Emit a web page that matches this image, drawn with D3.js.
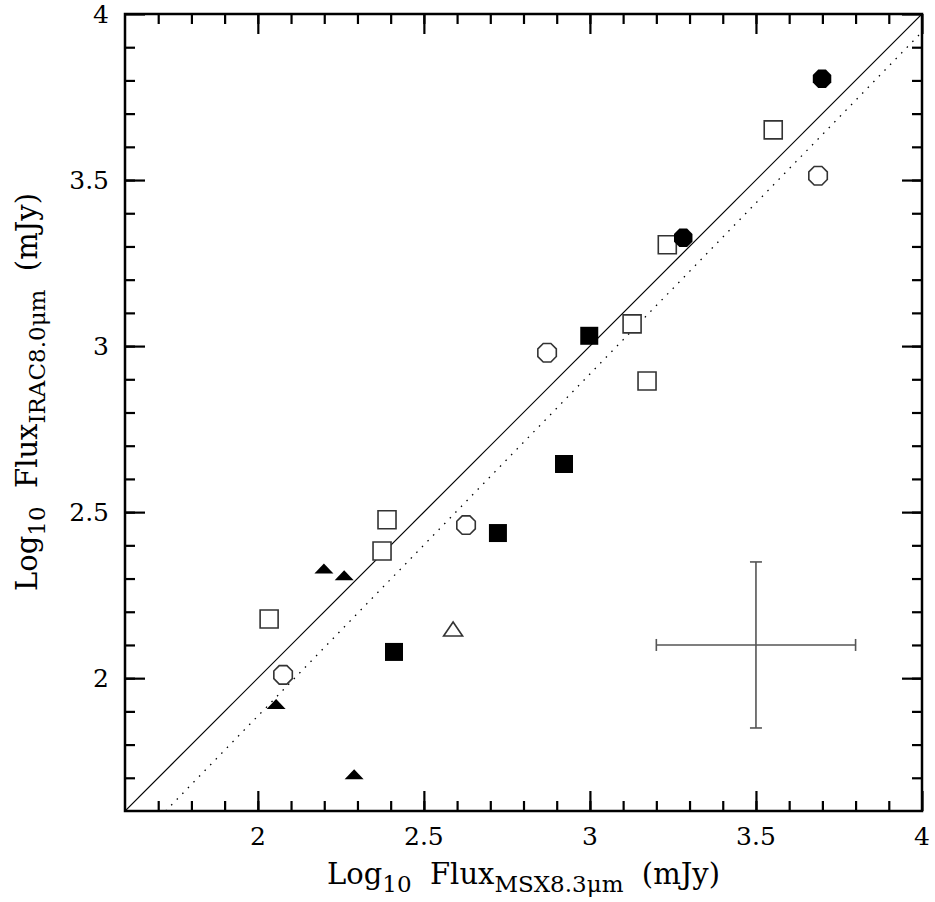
<!DOCTYPE html>
<html>
<head>
<meta charset="utf-8">
<script src="https://cdn.jsdelivr.net/npm/d3@7"></script>
<style>
  body { margin: 0; background: #fff; }
  text { font-family: "DejaVu Serif", serif; fill: #000; }
</style>
</head>
<body>
<div id="container"></div>
<script>
// data (log10 flux, mJy)
var filledCircles = [[3.699, 3.805], [3.281, 3.326]];
var openCircles = [[3.687, 3.513], [2.871, 2.980], [2.627, 2.461], [2.076, 2.010]];
var openSquares = [[3.552, 3.651], [3.233, 3.305], [3.127, 3.067], [3.172, 2.895],
                   [2.389, 2.477], [2.374, 2.383], [2.034, 2.178]];
var filledSquares = [[2.998, 3.031], [2.922, 2.645], [2.723, 2.437], [2.410, 2.079]];
var filledTriangles = [[2.199, 2.330], [2.260, 2.310], [2.055, 1.922], [2.290, 1.711]];
var openTriangles = [[2.588, 2.148]];
var errorBar = { x: 3.5, y: 2.1, dx: 0.3, dy: 0.25 };
var fitLine = { slope: 1.03, intercept: -0.174 };
var majorTicks = [2, 2.5, 3, 3.5, 4];
var tickLabels = ['2', '2.5', '3', '3.5', '4'];

function drawChart() {
    var W = 935, H = 902;
    var pl = 125, pr = 922, pt = 14, pb = 811;

    var svg = d3.select('#container').append('svg')
        .attr('width', W)
        .attr('height', H);

    var x = d3.scaleLinear().domain([1.6, 4]).range([pl, pr]);
    var y = d3.scaleLinear().domain([1.6, 4]).range([pb, pt]);

    var minor = d3.range(17, 40).map(function(v) { return v / 10; });

    // ticks on all four sides, pointing inward
    function tickSet(axisGen, tr, major) {
        var g = svg.append('g').attr('transform', tr)
            .call(axisGen.tickValues(major ? majorTicks : minor).tickFormat(''));
        g.select('.domain').remove();
        g.selectAll('line').attr('stroke', '#000').attr('stroke-width', 2.2);
    }
    tickSet(d3.axisTop(x).tickSize(10), 'translate(0,' + pb + ')', false);
    tickSet(d3.axisTop(x).tickSize(20), 'translate(0,' + pb + ')', true);
    tickSet(d3.axisBottom(x).tickSize(10), 'translate(0,' + pt + ')', false);
    tickSet(d3.axisBottom(x).tickSize(20), 'translate(0,' + pt + ')', true);
    tickSet(d3.axisRight(y).tickSize(10), 'translate(' + pl + ',0)', false);
    tickSet(d3.axisRight(y).tickSize(20), 'translate(' + pl + ',0)', true);
    tickSet(d3.axisLeft(y).tickSize(10), 'translate(' + pr + ',0)', false);
    tickSet(d3.axisLeft(y).tickSize(20), 'translate(' + pr + ',0)', true);

    svg.append('rect')
        .attr('x', pl).attr('y', pt)
        .attr('width', pr - pl).attr('height', pb - pt)
        .attr('fill', 'none').attr('stroke', '#000').attr('stroke-width', 2.5);

    // tick labels
    svg.append('g').selectAll('text').data(majorTicks).enter().append('text')
        .attr('x', function(d) { return x(d); })
        .attr('y', pb + 34)
        .attr('text-anchor', 'middle')
        .attr('font-size', 25)
        .text(function(d, i) { return tickLabels[i]; });

    svg.append('g').selectAll('text').data(majorTicks).enter().append('text')
        .attr('x', pl - 16)
        .attr('y', function(d) { return y(d) + 9; })
        .attr('text-anchor', 'end')
        .attr('font-size', 25)
        .text(function(d, i) { return tickLabels[i]; });

    // axis titles
    function title(t, sub) {
        t.append('tspan').text('Log');
        t.append('tspan').attr('font-size', 23).attr('dy', 8).text('10');
        t.append('tspan').attr('dy', -8).text('\u00a0 Flux');
        t.append('tspan').attr('font-size', 23).attr('dy', 8).text(sub);
        t.append('tspan').attr('dy', -8).text('\u00a0 (mJy)');
    }
    var xt = svg.append('text')
        .attr('x', x(2.8)).attr('y', 884)
        .attr('text-anchor', 'middle').attr('font-size', 29);
    title(xt, 'MSX8.3\u03bcm');

    var yt = svg.append('text')
        .attr('transform', 'translate(37,392) rotate(-90)')
        .attr('text-anchor', 'middle').attr('font-size', 29);
    title(yt, 'IRAC8.0\u03bcm');

    // one-to-one and fitted lines
    svg.append('clipPath').attr('id', 'plotclip')
        .append('rect').attr('x', pl).attr('y', pt)
        .attr('width', pr - pl).attr('height', pb - pt);
    var plot = svg.append('g').attr('clip-path', 'url(#plotclip)');

    plot.append('line')
        .attr('x1', x(1.6)).attr('y1', y(1.6))
        .attr('x2', x(4)).attr('y2', y(4))
        .attr('stroke', '#000').attr('stroke-width', 1.2);

    var fx0 = (1.6 - fitLine.intercept) / fitLine.slope;
    plot.append('line')
        .attr('x1', x(fx0)).attr('y1', y(1.6))
        .attr('x2', x(4)).attr('y2', y(fitLine.slope * 4 + fitLine.intercept))
        .attr('stroke', '#000').attr('stroke-width', 1.3)
        .attr('stroke-dasharray', '1.5,6.5');

    // error bar cross
    var eb = svg.append('g').attr('stroke', '#555').attr('stroke-width', 1.6);
    eb.append('line')
        .attr('x1', x(errorBar.x - errorBar.dx)).attr('x2', x(errorBar.x + errorBar.dx))
        .attr('y1', y(errorBar.y)).attr('y2', y(errorBar.y));
    eb.append('line')
        .attr('x1', x(errorBar.x)).attr('x2', x(errorBar.x))
        .attr('y1', y(errorBar.y - errorBar.dy)).attr('y2', y(errorBar.y + errorBar.dy));
    [-1, 1].forEach(function(s) {
        eb.append('line')
            .attr('x1', x(errorBar.x + s * errorBar.dx)).attr('x2', x(errorBar.x + s * errorBar.dx))
            .attr('y1', y(errorBar.y) - 6).attr('y2', y(errorBar.y) + 6);
        eb.append('line')
            .attr('x1', x(errorBar.x) - 6).attr('x2', x(errorBar.x) + 6)
            .attr('y1', y(errorBar.y + s * errorBar.dy)).attr('y2', y(errorBar.y + s * errorBar.dy));
    });

    // marker shapes
    function octagon(r) {
        var pts = d3.range(8).map(function(i) {
            var a = Math.PI / 8 + i * Math.PI / 4;
            return [r * Math.cos(a), r * Math.sin(a)];
        });
        return 'M' + pts.join('L') + 'Z';
    }
    function triangle(w, h) {
        return 'M' + (-w / 2) + ',' + (h / 2) + 'L' + (w / 2) + ',' + (h / 2) + 'L0,' + (-h / 2) + 'Z';
    }
    var sq = 'M-9,-9L9,-9L9,9L-9,9Z';

    function drawSet(data, path, filled) {
        svg.append('g').selectAll('path').data(data).enter().append('path')
            .attr('d', path)
            .attr('transform', function(d) { return 'translate(' + x(d[0]) + ',' + y(d[1]) + ')'; })
            .attr('fill', filled ? '#000' : '#fff')
            .attr('stroke', filled ? 'none' : '#333')
            .attr('stroke-width', 1.6);
    }
    drawSet(openSquares, sq, false);
    drawSet(filledSquares, sq, true);
    drawSet(openCircles, octagon(10), false);
    drawSet(filledCircles, octagon(10), true);
    drawSet(filledTriangles, triangle(19, 10), true);
    drawSet(openTriangles, triangle(19, 14), false);
}

drawChart();
</script>
</body>
</html>
